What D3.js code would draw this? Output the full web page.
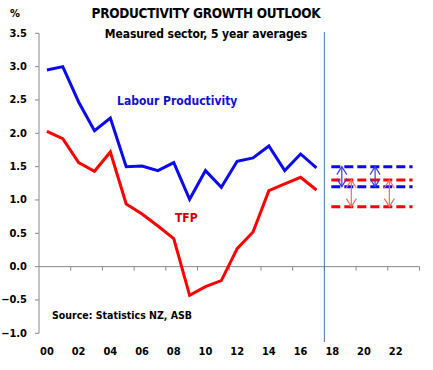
<!DOCTYPE html>
<html>
<head>
<meta charset="utf-8">
<script src="https://cdn.jsdelivr.net/npm/d3@7"></script>
<style>
  body { margin: 0; background: #fff; }
  svg { font-family: "DejaVu Sans Condensed", "DejaVu Sans", sans-serif; font-weight: bold; }
</style>
</head>
<body>
<div id="chart"></div>
<script>
// data
const years = d3.range(2000, 2024)
const histYears = d3.range(2000, 2018)
const labourProd = [2.95, 3.0, 2.47, 2.04, 2.23, 1.50, 1.51, 1.44, 1.56, 1.01, 1.44, 1.19, 1.58, 1.63, 1.81, 1.44, 1.69, 1.48]
const tfp = [2.03, 1.92, 1.56, 1.43, 1.72, 0.94, 0.79, 0.61, 0.42, -0.43, -0.30, -0.21, 0.27, 0.52, 1.14, 1.24, 1.34, 1.15]
// forecast ranges 2018-2023
const forecastYears = [2018, 2023]
const labourRange = [1.5, 1.2]
const tfpRange = [1.3, 0.9]
const labourArrowX = [2019.1, 2021.2]
const tfpArrowX = [2019.7, 2022.1]
const yTicks = [-1.0, -0.5, 0.0, 0.5, 1.0, 1.5, 2.0, 2.5, 3.0, 3.5]
const xLabelYears = d3.range(2000, 2024, 2)

const width = 433, height = 370
const blue = '#0a0aee', red = '#ff0000'

const svg = d3.select('#chart').append('svg')
    .attr('width', width)
    .attr('height', height)

const x = d3.scaleBand()
    .domain(years)
    .range([39, 419.5])
    .padding(0)
const xc = d => x(d) + x.bandwidth() / 2
// continuous year scale for the forecast marks
const xl = d3.scaleLinear()
    .domain([2000, 2024])
    .range([39, 419.5])
const y = d3.scaleLinear()
    .domain([-1, 3.5])
    .range([333.3, 33.3])

// y axis
svg.append('line')
    .attr('x1', 39).attr('x2', 39)
    .attr('y1', y(3.5)).attr('y2', y(-1))
    .attr('stroke', '#888').attr('stroke-width', 1)
svg.selectAll('.ytick')
    .data(yTicks)
    .enter().append('line')
    .attr('x1', 35).attr('x2', 39)
    .attr('y1', d => y(d)).attr('y2', d => y(d))
    .attr('stroke', '#888')
svg.selectAll('.ylab')
    .data(yTicks)
    .enter().append('text')
    .attr('x', 27)
    .attr('y', d => y(d))
    .attr('text-anchor', 'end')
    .attr('dominant-baseline', 'central')
    .attr('font-size', 11)
    .text(d => d3.format('.1f')(d))

// zero line with ticks every 2 years
svg.append('line')
    .attr('x1', 39).attr('x2', 419.5)
    .attr('y1', y(0)).attr('y2', y(0))
    .attr('stroke', '#888')
svg.selectAll('.xtick')
    .data(xLabelYears.slice(1).concat([2024]))
    .enter().append('line')
    .attr('x1', d => xl(d)).attr('x2', d => xl(d))
    .attr('y1', y(0)).attr('y2', y(0) + 4)
    .attr('stroke', '#888')
svg.selectAll('.xlab')
    .data(xLabelYears)
    .enter().append('text')
    .attr('x', d => xc(d))
    .attr('y', 351)
    .attr('text-anchor', 'middle')
    .attr('dominant-baseline', 'central')
    .attr('font-size', 11)
    .text(d => String(d % 100).padStart(2, '0'))

// divider between history and forecast
svg.append('line')
    .attr('x1', x(2018)).attr('x2', x(2018))
    .attr('y1', 32).attr('y2', 342)
    .attr('stroke', '#4f76a8').attr('stroke-width', 1)

const line = d3.line()
    .x((d, i) => xc(histYears[i]))
    .y(d => y(d))

svg.append('path')
    .attr('d', line(tfp))
    .attr('fill', 'none')
    .attr('stroke', red)
    .attr('stroke-width', 3)
svg.append('path')
    .attr('d', line(labourProd))
    .attr('fill', 'none')
    .attr('stroke', blue)
    .attr('stroke-width', 3)

// forecast dashed ranges
const dashed = [
    { v: labourRange[0], c: blue }, { v: tfpRange[0], c: red },
    { v: labourRange[1], c: blue }, { v: tfpRange[1], c: red }
]
svg.selectAll('.fc')
    .data(dashed)
    .enter().append('line')
    .attr('x1', xc(forecastYears[0]) - 1)
    .attr('x2', xc(forecastYears[1]) + 1)
    .attr('y1', d => y(d.v)).attr('y2', d => y(d.v))
    .attr('stroke', d => d.c)
    .attr('stroke-width', 3)
    .attr('stroke-dasharray', '9,4')

// double arrows
const arrow = (xv, range, col) => {
    let g = svg.append('g')
        .attr('stroke', col)
        .attr('stroke-width', 1.2)
        .attr('fill', 'none')
    let xp = xl(xv), y1 = y(range[0]), y2 = y(range[1])
    g.append('line').attr('x1', xp).attr('x2', xp).attr('y1', y1).attr('y2', y2)
    g.append('polyline').attr('points', [[xp - 5, y1 + 8], [xp, y1], [xp + 5, y1 + 8]].join(' '))
    g.append('polyline').attr('points', [[xp - 5, y2 - 8], [xp, y2], [xp + 5, y2 - 8]].join(' '))
}
labourArrowX.forEach(v => arrow(v, labourRange, '#3a3ae0'))
tfpArrowX.forEach(v => arrow(v, tfpRange, '#f46a6a'))

// titles and labels
svg.append('text')
    .attr('x', 10).attr('y', 13)
    .attr('dominant-baseline', 'central')
    .attr('font-size', 11)
    .text('%')
svg.append('text')
    .attr('x', 206).attr('y', 13)
    .attr('text-anchor', 'middle')
    .attr('dominant-baseline', 'central')
    .attr('font-size', 13.5)
    .attr('letter-spacing', -0.3)
    .text('PRODUCTIVITY  GROWTH OUTLOOK')
svg.append('text')
    .attr('x', 206).attr('y', 34)
    .attr('text-anchor', 'middle')
    .attr('dominant-baseline', 'central')
    .attr('font-size', 12)
    .attr('letter-spacing', -0.1)
    .text('Measured sector, 5 year averages')
svg.append('text')
    .attr('x', 117).attr('y', 101)
    .attr('dominant-baseline', 'central')
    .attr('font-size', 12)
    .attr('fill', '#1010cc')
    .text('Labour Productivity')
svg.append('text')
    .attr('x', 175).attr('y', 218)
    .attr('dominant-baseline', 'central')
    .attr('font-size', 12)
    .attr('fill', '#cc0000')
    .text('TFP')
svg.append('text')
    .attr('x', 52).attr('y', 315)
    .attr('dominant-baseline', 'central')
    .attr('font-size', 10.5)
    .text('Source: Statistics NZ, ASB')
</script>
</body>
</html>
